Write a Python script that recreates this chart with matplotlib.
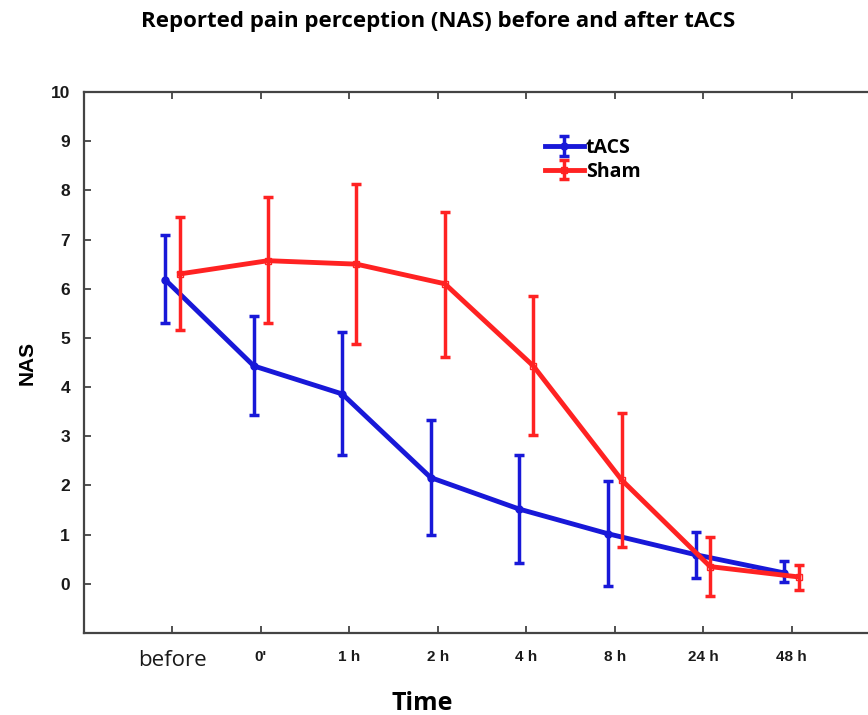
import matplotlib
matplotlib.use("Agg")
import matplotlib.pyplot as plt
import numpy as np

# ---- data ----
time_labels = ["before", "0'", "1 h", "2 h", "4 h", "8 h", "24 h", "48 h"]
tacs_mean = [6.18, 4.43, 3.86, 2.16, 1.52, 1.02, 0.59, 0.22]
tacs_upper = [7.09, 5.45, 5.12, 3.34, 2.62, 2.09, 1.06, 0.47]
tacs_lower = [5.30, 3.43, 2.62, 0.99, 0.43, -0.04, 0.12, 0.04]
sham_mean = [6.30, 6.57, 6.50, 6.10, 4.43, 2.11, 0.35, 0.14]
sham_upper = [7.46, 7.87, 8.13, 7.56, 5.85, 3.47, 0.96, 0.39]
sham_lower = [5.16, 5.30, 4.87, 4.61, 3.03, 0.75, -0.24, -0.12]
y_ticks = list(range(0, 11))

BLUE = "#1818d8"
RED = "#ff2222"

fig = plt.figure(figsize=(8.68, 7.15), dpi=100)
ax = fig.add_axes([84/868, 82/715, (880-84)/868, (633-92)/715])

x = np.arange(len(time_labels))
off = 0.08

tm = np.array(tacs_mean); sm = np.array(sham_mean)
t_err = [tm - np.array(tacs_lower), np.array(tacs_upper) - tm]
s_err = [sm - np.array(sham_lower), np.array(sham_upper) - sm]

ax.errorbar(x - off, tm, yerr=t_err, color=BLUE, lw=3.5, elinewidth=2.5,
            capsize=3.5, capthick=2.5, marker='o', ms=5, label="tACS", zorder=3)
ax.errorbar(x + off, sm, yerr=s_err, color=RED, lw=3.5, elinewidth=2.5,
            capsize=3.5, capthick=2.5, marker='s', ms=5, mfc='none', mec=RED,
            label="Sham", zorder=4)

ax.set_xlim(-1, 8)
ax.set_ylim(-1, 10)
ax.set_yticks(y_ticks)
ax.set_yticklabels([str(v) for v in y_ticks], fontfamily=['Liberation Sans'],
                   fontweight='bold', fontsize=12.5, color='#222222')
ax.set_xticks(x)
ax.set_xticklabels(time_labels, fontfamily=['Liberation Sans Narrow', 'Liberation Sans'],
                   fontweight='bold', fontsize=11, color='#222222')
lbl0 = ax.get_xticklabels()[0]
lbl0.set_fontfamily(['Open Sans'])
lbl0.set_fontweight('normal')
lbl0.set_fontsize(16)

ax.tick_params(direction='in', length=5, width=1.2, top=True, right=True,
               colors='#333333')
ax.tick_params(axis='x', pad=12)
ax.tick_params(axis='y', pad=10)
for lab in ax.get_xticklabels() + ax.get_yticklabels():
    lab.set_color('#1a1a1a')
for s in ax.spines.values():
    s.set_linewidth(1.6)
    s.set_color('#444444')

ax.set_ylabel("NAS", fontfamily=['Liberation Sans'], fontweight='bold',
              fontsize=15, labelpad=10)
fig.text(422/868, 1 - 703/715, "Time", ha='center', va='center',
         fontfamily=['Open Sans', 'Lato'], fontweight='bold', fontsize=18)
fig.text(438/868, 1 - 22/715, "Reported pain perception (NAS) before and after tACS",
         ha='center', va='center', fontfamily=['Open Sans', 'Lato'],
         fontweight='bold', fontsize=16)

leg = ax.legend(loc='upper left', bbox_to_anchor=(578/868 - 84/868, 0.93),
                frameon=False, handlelength=2.0, handletextpad=0.1,
                labelspacing=0.2, borderaxespad=0,
                prop={'family': ['Open Sans'], 'weight': 'bold', 'size': 14})

fig.savefig("out.png", dpi=100)
